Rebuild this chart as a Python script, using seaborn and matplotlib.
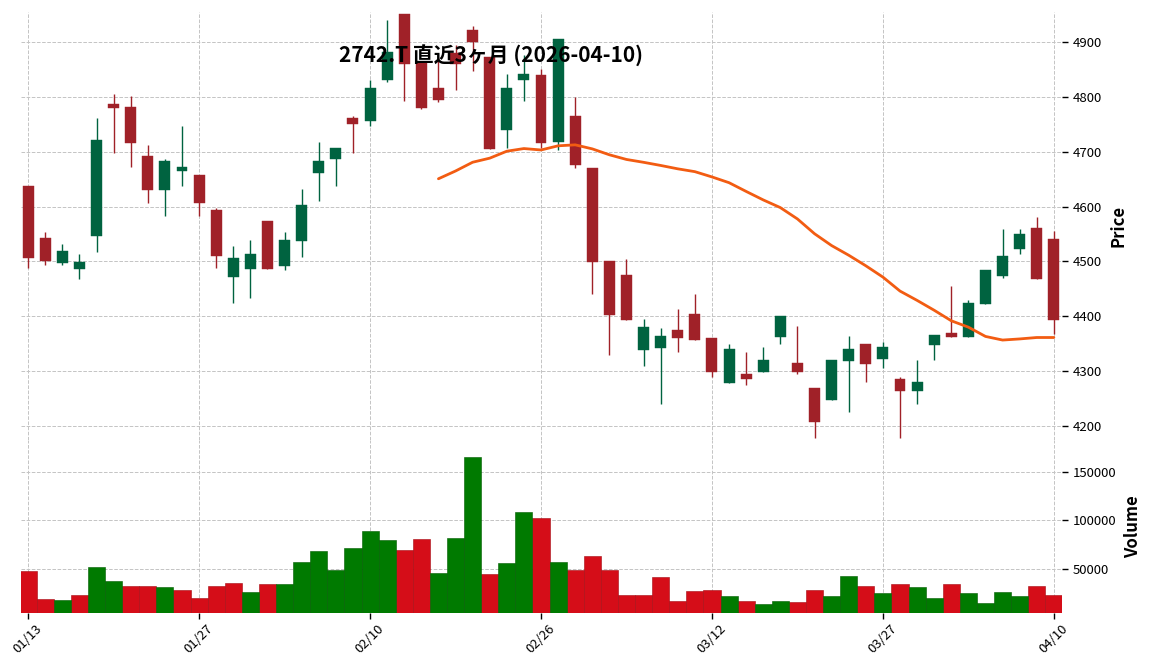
import numpy as np
import pandas as pd
import matplotlib
matplotlib.use("Agg")
import matplotlib.pyplot as plt
import seaborn as sns

# ---- data -------------------------------------------------------------
title = "2742.T 直近3ヶ月 (2026-04-10)"
tick_labels = ["01/13", "01/27", "02/10", "02/26", "03/12", "03/27", "04/10"]
tick_every = 10

opens = [4637, 4543, 4498, 4487, 4547, 4787, 4782, 4692, 4631, 4665,
         4658, 4594, 4472, 4486, 4574, 4492, 4538, 4662, 4686, 4762,
         4756, 4831, 4951, 4861, 4816, 4880, 4922, 4873, 4740, 4831,
         4840, 4718, 4765, 4670, 4501, 4475, 4339, 4343, 4375, 4404,
         4360, 4278, 4295, 4299, 4362, 4314, 4269, 4247, 4319, 4350,
         4323, 4286, 4264, 4348, 4370, 4362, 4422, 4474, 4523, 4561,
         4541]
highs = [4637, 4554, 4532, 4514, 4761, 4806, 4801, 4712, 4686, 4746,
         4658, 4597, 4528, 4539, 4574, 4553, 4632, 4718, 4707, 4766,
         4831, 4941, 4951, 4861, 4873, 4895, 4930, 4873, 4841, 4877,
         4851, 4906, 4800, 4670, 4501, 4504, 4395, 4379, 4414, 4440,
         4360, 4349, 4334, 4344, 4401, 4383, 4269, 4320, 4364, 4350,
         4354, 4289, 4320, 4366, 4455, 4429, 4484, 4560, 4560, 4581,
         4555]
lows = [4488, 4493, 4493, 4468, 4518, 4697, 4672, 4607, 4582, 4637,
        4582, 4488, 4424, 4433, 4486, 4484, 4508, 4611, 4637, 4697,
        4746, 4827, 4792, 4777, 4791, 4813, 4847, 4705, 4706, 4792,
        4707, 4704, 4670, 4440, 4329, 4394, 4309, 4240, 4334, 4357,
        4289, 4278, 4274, 4299, 4349, 4294, 4179, 4247, 4225, 4280,
        4306, 4179, 4240, 4320, 4363, 4362, 4422, 4469, 4514, 4468,
        4368]
closes = [4506, 4501, 4519, 4499, 4721, 4780, 4716, 4631, 4683, 4672,
          4607, 4510, 4507, 4514, 4486, 4539, 4603, 4683, 4707, 4751,
          4816, 4882, 4860, 4780, 4794, 4860, 4900, 4705, 4816, 4842,
          4715, 4906, 4675, 4499, 4403, 4394, 4380, 4364, 4360, 4357,
          4299, 4340, 4285, 4320, 4401, 4299, 4208, 4320, 4340, 4313,
          4344, 4264, 4280, 4366, 4363, 4424, 4484, 4510, 4550, 4468,
          4394]
volumes = [48300, 19700, 18700, 23800, 52400, 38100, 33000, 33000, 32000, 28900,
           20700, 33000, 36100, 26900, 35000, 35000, 57500, 68700, 49300, 71800,
           89100, 79900, 69700, 81000, 46300, 82000, 164600, 45200, 56500, 108500,
           102400, 57500, 49300, 63600, 49300, 23800, 23800, 42200, 17700, 27900,
           28900, 22800, 17700, 14600, 17700, 16700, 28900, 22800, 43200, 33000,
           25900, 35000, 32000, 20700, 35000, 25900, 15600, 26900, 22800, 33000,
           23800]
ma_window = 25

# ---- styling ----------------------------------------------------------
UP, DOWN = "#006340", "#a02128"
VUP, VDOWN = "#007a00", "#d50d18"
VUP_E, VDOWN_E = "#005c00", "#a50a12"
MA_COLOR = "#f25c12"
GRID = "#c4c4c4"

sns.set_theme(style="white")
plt.rcParams["font.family"] = ["Noto Sans CJK JP", "DejaVu Sans"]
plt.rcParams["text.color"] = "black"
plt.rcParams["axes.labelcolor"] = "black"
plt.rcParams["xtick.color"] = "black"
plt.rcParams["ytick.color"] = "black"

df = pd.DataFrame({"open": opens, "high": highs, "low": lows,
                   "close": closes, "volume": volumes})
df["idx"] = np.arange(len(df))
df["up"] = df["close"] >= df["open"]
prev = df["close"].shift(1).fillna(df["open"])
df["vdir"] = np.where(df["close"] >= prev, "up", "down")
df["ma"] = df["close"].rolling(ma_window).mean()

fig = plt.figure(figsize=(11.52, 6.70), dpi=100)
ax = fig.add_axes([0.0182, 0.3433, 0.9036, 0.6388])
axv = fig.add_axes([0.0182, 0.0858, 0.9036, 0.2575], sharex=ax)

n = len(df)
xlim = (-0.42, n - 1 + 0.47)

# candles
ccol = np.where(df["up"], UP, DOWN)
ax.vlines(df["idx"], df["low"], df["high"], colors=ccol, linewidth=1.0, zorder=3)
body_lo = np.minimum(df["open"], df["close"])
body_h = np.maximum(np.abs(df["close"] - df["open"]), 0.8)
ax.bar(df["idx"], body_h, bottom=body_lo, width=0.64, color=ccol,
       edgecolor=ccol, linewidth=0.3, zorder=4)

# moving average
sns.lineplot(x="idx", y="ma", data=df, ax=ax, color=MA_COLOR, linewidth=2.0, zorder=5)

# volume
sns.barplot(x="idx", y="volume", hue="vdir", data=df, ax=axv,
            palette={"up": VUP, "down": VDOWN}, dodge=False, width=1.0,
            saturation=1, legend=False, zorder=3)
for p in axv.patches:
    fc = matplotlib.colors.to_hex(p.get_facecolor())
    p.set_edgecolor(VUP_E if fc == VUP else VDOWN_E)
    p.set_linewidth(0.4)

# axes cosmetics
for a in (ax, axv):
    a.set_xlim(*xlim)
    for s in a.spines.values():
        s.set_visible(False)
    a.grid(True, linestyle="--", color=GRID, linewidth=0.7, zorder=0)
    a.set_axisbelow(True)
    a.yaxis.tick_right()
    a.yaxis.set_label_position("right")
    a.tick_params(axis="y", which="both", right=True, left=False, length=4,
                  width=1.0, color="black", labelsize=9.5, pad=4, labelcolor="black")
    a.set_xlabel("")

ticks = list(range(0, n, tick_every))
ax.set_xticks(ticks)
ax.tick_params(axis="x", bottom=False, labelbottom=False)
axv.set_xticks(ticks)
axv.set_xticklabels(tick_labels, rotation=45, ha="center")
axv.tick_params(axis="x", bottom=True, length=4, width=1.0, color="black",
                labelsize=9.5, labelcolor="black", pad=3)

ax.set_ylim(min(lows) - 4.5, max(highs) + 3.7)
ax.set_yticks([4200, 4300, 4400, 4500, 4600, 4700, 4800, 4900])
ax.set_ylabel("Price", fontsize=12, fontweight="bold", labelpad=5, color="black")

axv.set_ylim(5500, 182500)
axv.set_yticks([50000, 100000, 150000])
axv.set_yticklabels(["50000", "100000", "150000"])
axv.set_ylabel("Volume", fontsize=12, fontweight="bold", labelpad=5, color="black")

fig.text(0.4262, 0.918, title, ha="center", va="center", fontsize=15,
         fontweight="bold", color="black",
         family=["Noto Sans CJK JP", "DejaVu Sans"])

fig.savefig("out.png", dpi=100)
